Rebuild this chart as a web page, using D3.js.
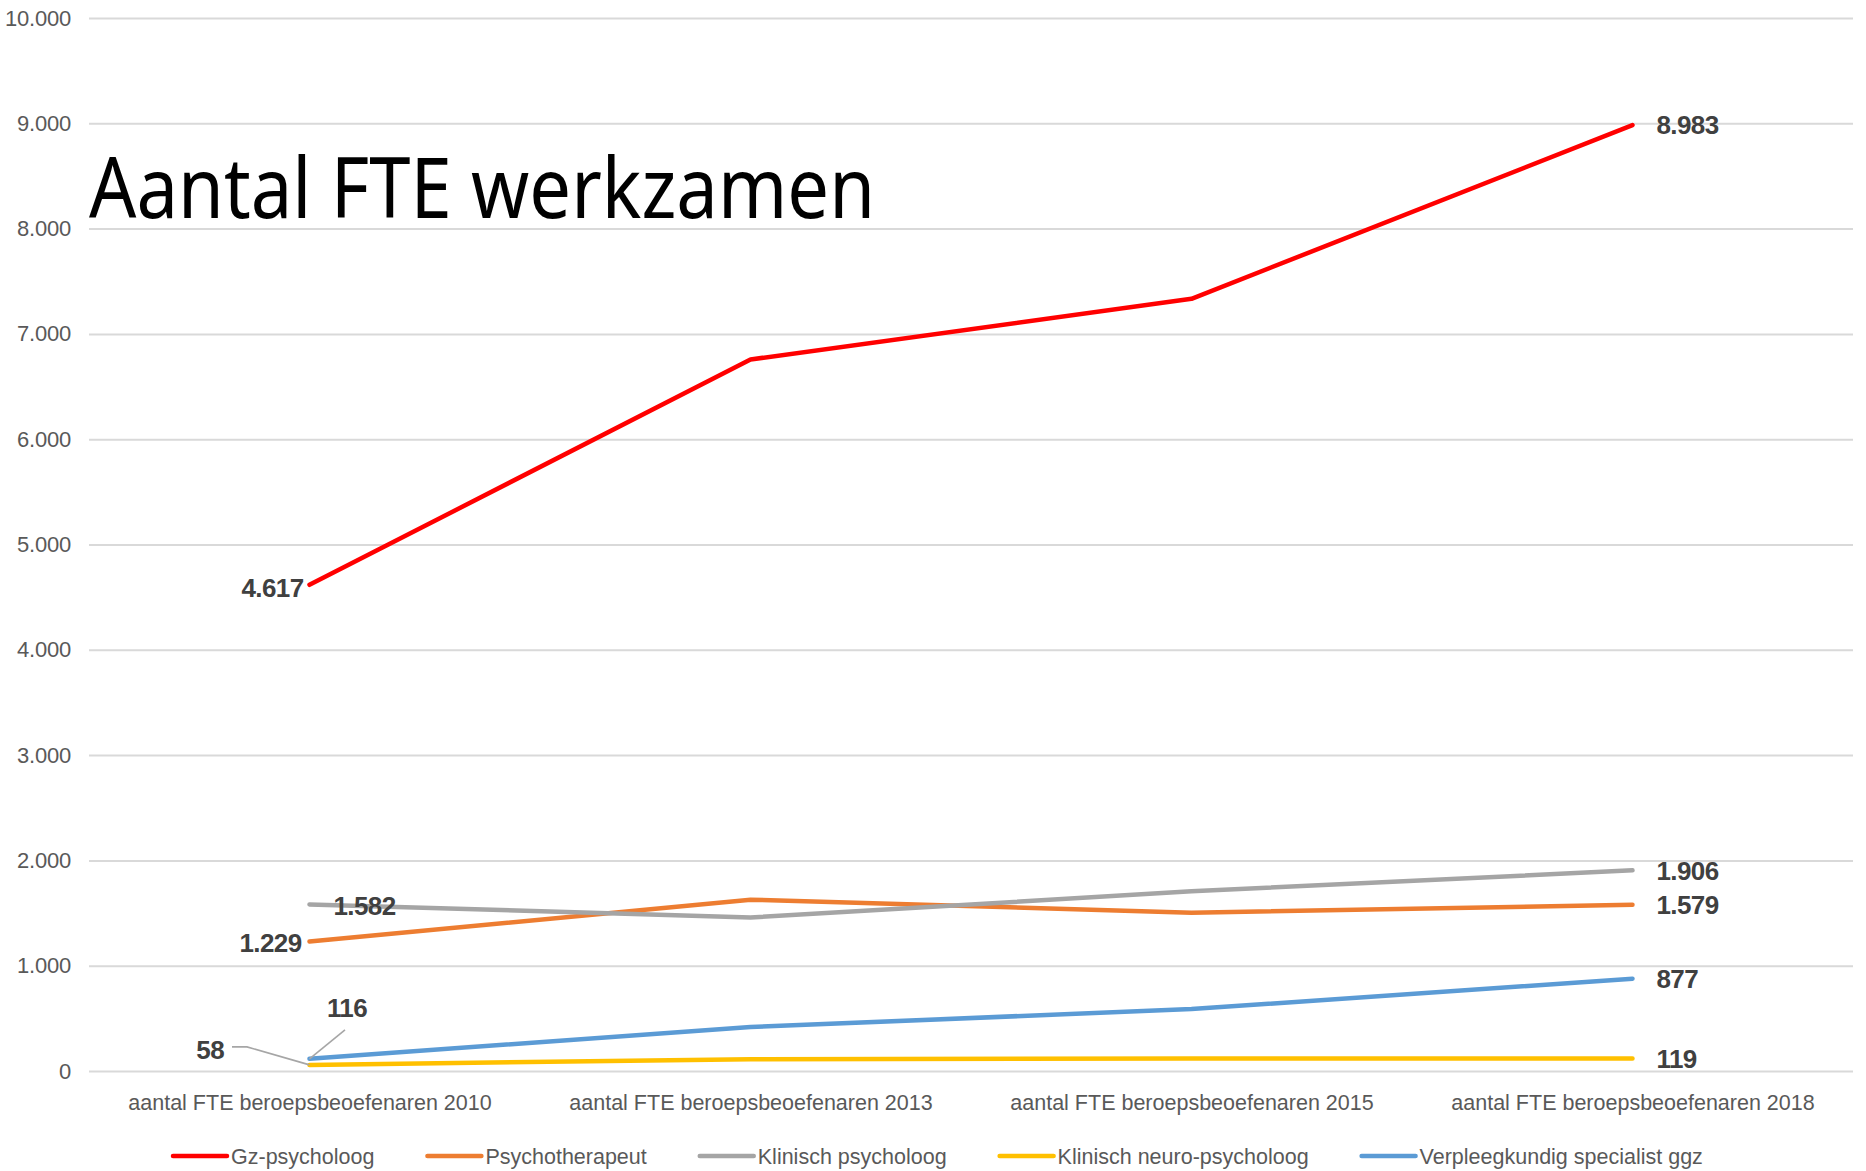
<!DOCTYPE html>
<html>
<head>
<meta charset="utf-8">
<script src="https://cdn.jsdelivr.net/npm/d3@7"></script>
<style>
  body { margin: 0; background: #fff; }
  svg { display: block; }
</style>
</head>
<body>
<div class="chart"></div>
<script>
// data
const categories = [
  "aantal FTE beroepsbeoefenaren 2010",
  "aantal FTE beroepsbeoefenaren 2013",
  "aantal FTE beroepsbeoefenaren 2015",
  "aantal FTE beroepsbeoefenaren 2018"
]
const seriesNames = [
  "Gz-psycholoog",
  "Psychotherapeut",
  "Klinisch psycholoog",
  "Klinisch neuro-psycholoog",
  "Verpleegkundig specialist ggz"
]
const gzPsycholoog = [4617, 6757, 7333, 8983]
const psychotherapeut = [1229, 1627, 1503, 1579]
const klinischPsycholoog = [1582, 1458, 1706, 1906]
const klinischNeuro = [58, 112, 118, 119]
const verpleegkundig = [116, 418, 588, 877]
const yTicks = [0, 1000, 2000, 3000, 4000, 5000, 6000, 7000, 8000, 9000, 10000]

const allValues = [gzPsycholoog, psychotherapeut, klinischPsycholoog, klinischNeuro, verpleegkundig]

const width = 1866
const height = 1171
const margin = { left: 89, right: 13, top: 18, bottom: 100 }

const colors = ["#ff0000", "#ed7d31", "#a5a5a5", "#ffc000", "#5b9bd5"]

const nl = d3.formatLocale({ decimal: ",", thousands: ".", grouping: [3], currency: ["€", ""] })
const fmt = nl.format(",d")

const svg = d3.select(".chart").append("svg")
  .attr("width", width)
  .attr("height", height)

svg.append("rect")
  .attr("width", width)
  .attr("height", height)
  .attr("fill", "#fff")

const x = d3.scalePoint()
  .domain(categories)
  .range([margin.left, width - margin.right])
  .padding(0.5)

const y = d3.scaleLinear()
  .domain([0, 10000])
  .range([height - margin.bottom, margin.top])

// gridlines + y labels
const yAxis = d3.axisLeft(y)
  .tickValues(yTicks)
  .tickFormat(fmt)
  .tickSize(-(width - margin.left - margin.right))
  .tickPadding(18)

const yG = svg.append("g")
  .attr("transform", "translate(" + margin.left + ",0)")
  .call(yAxis)
yG.select(".domain").remove()
yG.selectAll("line")
  .attr("stroke", "#d9d9d9")
  .attr("stroke-width", 2)
yG.selectAll("text")
  .style("font-family", "Liberation Sans, Arial, sans-serif")
  .style("font-size", "22px")
  .attr("fill", "#595959")
  .attr("letter-spacing", "-0.2")

// x labels
const xAxis = d3.axisBottom(x).tickSize(0).tickPadding(24)
const xG = svg.append("g")
  .attr("transform", "translate(0," + y(0) + ")")
  .call(xAxis)
xG.select(".domain").remove()
xG.selectAll("text")
  .style("font-family", "Liberation Sans, Arial, sans-serif")
  .style("font-size", "21.5px")
  .attr("fill", "#595959")

// title inside the plot
svg.append("text")
  .attr("x", 89)
  .attr("y", 218)
  .style("font-family", "Noto Sans, sans-serif")
  .style("font-size", "84px")
  .attr("fill", "#000")
  .attr("textLength", 786)
  .attr("lengthAdjust", "spacingAndGlyphs")
  .text("Aantal FTE werkzamen")

// lines
const line = d3.line()
  .x(function(d, i) { return x(categories[i]) })
  .y(function(d) { return y(d) })

const drawOrder = [4, 3, 1, 2, 0]
drawOrder.forEach(function(s) {
  svg.append("path")
    .datum(allValues[s])
    .attr("d", line)
    .attr("fill", "none")
    .attr("stroke", colors[s])
    .attr("stroke-width", 4.5)
    .attr("stroke-linecap", "round")
    .attr("stroke-linejoin", "round")
})

// data labels (first and last point)
function label(xp, yp, anchor, txt) {
  svg.append("text")
    .attr("x", xp)
    .attr("y", yp)
    .attr("dy", "0.36em")
    .attr("text-anchor", anchor)
    .style("font-family", "Liberation Sans, Arial, sans-serif")
    .style("font-size", "26px")
    .style("font-weight", "bold")
    .attr("letter-spacing", "-0.6")
    .attr("fill", "#404040")
    .text(txt)
}

const x0 = x(categories[0])
const xl = x(categories[categories.length - 1])

allValues.forEach(function(v) {
  const last = v[v.length - 1]
  label(xl + 24, y(last), "start", fmt(last))
})

label(x0 - 6, y(gzPsycholoog[0]) + 3, "end", fmt(gzPsycholoog[0]))
label(x0 - 8, y(psychotherapeut[0]) + 1, "end", fmt(psychotherapeut[0]))
label(x0 + 24, y(klinischPsycholoog[0]) + 1, "start", fmt(klinischPsycholoog[0]))

// small values with leader lines
const leader = d3.line()
svg.append("path")
  .attr("d", leader([[232, y(klinischNeuro[0]) - 18], [247, y(klinischNeuro[0]) - 18], [x0, y(klinischNeuro[0])]]))
  .attr("fill", "none")
  .attr("stroke", "#a6a6a6")
  .attr("stroke-width", 1.6)
label(224, y(klinischNeuro[0]) - 15, "end", fmt(klinischNeuro[0]))

svg.append("path")
  .attr("d", leader([[x0, y(verpleegkundig[0])], [345, y(verpleegkundig[0]) - 29]]))
  .attr("fill", "none")
  .attr("stroke", "#a6a6a6")
  .attr("stroke-width", 1.6)
label(347, y(verpleegkundig[0]) - 51, "middle", fmt(verpleegkundig[0]))

// legend
const legend = svg.append("g")
let lx = 173
const ly = 1156
seriesNames.forEach(function(name, i) {
  legend.append("line")
    .attr("x1", lx)
    .attr("x2", lx + 54)
    .attr("y1", ly)
    .attr("y2", ly)
    .attr("stroke", colors[i])
    .attr("stroke-width", 4.5)
    .attr("stroke-linecap", "round")
  const t = legend.append("text")
    .attr("x", lx + 58)
    .attr("y", ly)
    .attr("dy", "0.35em")
    .style("font-family", "Liberation Sans, Arial, sans-serif")
    .style("font-size", "21.5px")
    .attr("fill", "#595959")
    .text(name)
  lx = lx + 58 + t.node().getComputedTextLength() + 53
})
</script>
</body>
</html>
